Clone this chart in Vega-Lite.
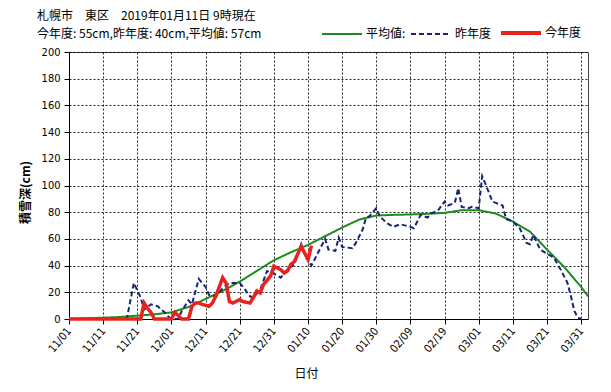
{
  "$schema": "https://vega.github.io/schema/vega-lite/v6.json",
  "width": 519,
  "height": 267,
  "autosize": {"type": "none"},
  "padding": {"left": 69, "top": 52, "right": 23, "bottom": 73},
  "background": "white",
  "title": {
    "text": ["札幌市　東区　2019年01月11日 9時現在", "今年度: 55cm,昨年度: 40cm,平均値: 57cm"],
    "anchor": "start",
    "frame": "group",
    "dx": -32,
    "dy": 26,
    "offset": 12,
    "font": "Noto Sans CJK JP",
    "fontSize": 12,
    "fontWeight": "normal",
    "lineHeight": 18,
    "color": "#000"
  },
  "data": {
    "values": [
      {"d": "2018-11-01", "s": "平均値:", "v": 0},
      {"d": "2018-11-06", "s": "平均値:", "v": 0.5},
      {"d": "2018-11-11", "s": "平均値:", "v": 1},
      {"d": "2018-11-16", "s": "平均値:", "v": 1.5},
      {"d": "2018-11-21", "s": "平均値:", "v": 2.5},
      {"d": "2018-11-26", "s": "平均値:", "v": 3.5},
      {"d": "2018-12-01", "s": "平均値:", "v": 5},
      {"d": "2018-12-06", "s": "平均値:", "v": 9},
      {"d": "2018-12-11", "s": "平均値:", "v": 15},
      {"d": "2018-12-16", "s": "平均値:", "v": 21},
      {"d": "2018-12-21", "s": "平均値:", "v": 28},
      {"d": "2018-12-26", "s": "平均値:", "v": 36},
      {"d": "2018-12-31", "s": "平均値:", "v": 44},
      {"d": "2019-01-05", "s": "平均値:", "v": 50},
      {"d": "2019-01-10", "s": "平均値:", "v": 55.5},
      {"d": "2019-01-15", "s": "平均値:", "v": 62},
      {"d": "2019-01-20", "s": "平均値:", "v": 68.5},
      {"d": "2019-01-25", "s": "平均値:", "v": 74.5},
      {"d": "2019-01-30", "s": "平均値:", "v": 77.5},
      {"d": "2019-02-04", "s": "平均値:", "v": 78},
      {"d": "2019-02-09", "s": "平均値:", "v": 78.3},
      {"d": "2019-02-14", "s": "平均値:", "v": 78.8},
      {"d": "2019-02-19", "s": "平均値:", "v": 79.5},
      {"d": "2019-02-24", "s": "平均値:", "v": 81.5},
      {"d": "2019-03-01", "s": "平均値:", "v": 81.5},
      {"d": "2019-03-06", "s": "平均値:", "v": 79},
      {"d": "2019-03-11", "s": "平均値:", "v": 73},
      {"d": "2019-03-16", "s": "平均値:", "v": 65.5},
      {"d": "2019-03-21", "s": "平均値:", "v": 52},
      {"d": "2019-03-26", "s": "平均値:", "v": 39},
      {"d": "2019-03-31", "s": "平均値:", "v": 24},
      {"d": "2019-04-02", "s": "平均値:", "v": 17},

      {"d": "2018-11-01", "s": "昨年度", "v": 0},
      {"d": "2018-11-17", "s": "昨年度", "v": 0},
      {"d": "2018-11-18", "s": "昨年度", "v": 1},
      {"d": "2018-11-20", "s": "昨年度", "v": 27},
      {"d": "2018-11-22", "s": "昨年度", "v": 16},
      {"d": "2018-11-23", "s": "昨年度", "v": 7},
      {"d": "2018-11-25", "s": "昨年度", "v": 11},
      {"d": "2018-11-27", "s": "昨年度", "v": 9.5},
      {"d": "2018-11-29", "s": "昨年度", "v": 5},
      {"d": "2018-11-30", "s": "昨年度", "v": 2},
      {"d": "2018-12-01", "s": "昨年度", "v": 0},
      {"d": "2018-12-03", "s": "昨年度", "v": 0},
      {"d": "2018-12-04", "s": "昨年度", "v": 6},
      {"d": "2018-12-06", "s": "昨年度", "v": 14},
      {"d": "2018-12-07", "s": "昨年度", "v": 11},
      {"d": "2018-12-09", "s": "昨年度", "v": 30},
      {"d": "2018-12-11", "s": "昨年度", "v": 24},
      {"d": "2018-12-12", "s": "昨年度", "v": 18},
      {"d": "2018-12-14", "s": "昨年度", "v": 17},
      {"d": "2018-12-16", "s": "昨年度", "v": 23},
      {"d": "2018-12-18", "s": "昨年度", "v": 27},
      {"d": "2018-12-21", "s": "昨年度", "v": 27},
      {"d": "2018-12-22", "s": "昨年度", "v": 24},
      {"d": "2018-12-24", "s": "昨年度", "v": 17},
      {"d": "2018-12-25", "s": "昨年度", "v": 16},
      {"d": "2018-12-27", "s": "昨年度", "v": 22},
      {"d": "2018-12-29", "s": "昨年度", "v": 36},
      {"d": "2018-12-31", "s": "昨年度", "v": 34},
      {"d": "2019-01-02", "s": "昨年度", "v": 31},
      {"d": "2019-01-04", "s": "昨年度", "v": 37},
      {"d": "2019-01-06", "s": "昨年度", "v": 41},
      {"d": "2019-01-08", "s": "昨年度", "v": 56},
      {"d": "2019-01-09", "s": "昨年度", "v": 48},
      {"d": "2019-01-11", "s": "昨年度", "v": 40},
      {"d": "2019-01-13", "s": "昨年度", "v": 50},
      {"d": "2019-01-15", "s": "昨年度", "v": 60},
      {"d": "2019-01-16", "s": "昨年度", "v": 52},
      {"d": "2019-01-18", "s": "昨年度", "v": 51},
      {"d": "2019-01-19", "s": "昨年度", "v": 61},
      {"d": "2019-01-20", "s": "昨年度", "v": 54},
      {"d": "2019-01-23", "s": "昨年度", "v": 53},
      {"d": "2019-01-24", "s": "昨年度", "v": 57},
      {"d": "2019-01-26", "s": "昨年度", "v": 67},
      {"d": "2019-01-27", "s": "昨年度", "v": 76},
      {"d": "2019-01-28", "s": "昨年度", "v": 77},
      {"d": "2019-01-30", "s": "昨年度", "v": 83},
      {"d": "2019-01-31", "s": "昨年度", "v": 77},
      {"d": "2019-02-02", "s": "昨年度", "v": 72},
      {"d": "2019-02-04", "s": "昨年度", "v": 69},
      {"d": "2019-02-06", "s": "昨年度", "v": 71},
      {"d": "2019-02-09", "s": "昨年度", "v": 69},
      {"d": "2019-02-10", "s": "昨年度", "v": 68},
      {"d": "2019-02-12", "s": "昨年度", "v": 78},
      {"d": "2019-02-14", "s": "昨年度", "v": 76},
      {"d": "2019-02-15", "s": "昨年度", "v": 79},
      {"d": "2019-02-17", "s": "昨年度", "v": 81},
      {"d": "2019-02-19", "s": "昨年度", "v": 88},
      {"d": "2019-02-20", "s": "昨年度", "v": 85},
      {"d": "2019-02-22", "s": "昨年度", "v": 87},
      {"d": "2019-02-23", "s": "昨年度", "v": 98},
      {"d": "2019-02-24", "s": "昨年度", "v": 84},
      {"d": "2019-02-26", "s": "昨年度", "v": 83},
      {"d": "2019-02-27", "s": "昨年度", "v": 84},
      {"d": "2019-03-01", "s": "昨年度", "v": 83},
      {"d": "2019-03-02", "s": "昨年度", "v": 107},
      {"d": "2019-03-03", "s": "昨年度", "v": 101},
      {"d": "2019-03-05", "s": "昨年度", "v": 88},
      {"d": "2019-03-06", "s": "昨年度", "v": 87},
      {"d": "2019-03-08", "s": "昨年度", "v": 85},
      {"d": "2019-03-09", "s": "昨年度", "v": 75},
      {"d": "2019-03-11", "s": "昨年度", "v": 73},
      {"d": "2019-03-13", "s": "昨年度", "v": 68},
      {"d": "2019-03-15", "s": "昨年度", "v": 57},
      {"d": "2019-03-16", "s": "昨年度", "v": 56},
      {"d": "2019-03-17", "s": "昨年度", "v": 63},
      {"d": "2019-03-19", "s": "昨年度", "v": 52},
      {"d": "2019-03-21", "s": "昨年度", "v": 49},
      {"d": "2019-03-23", "s": "昨年度", "v": 46},
      {"d": "2019-03-25", "s": "昨年度", "v": 37},
      {"d": "2019-03-27", "s": "昨年度", "v": 27},
      {"d": "2019-03-28", "s": "昨年度", "v": 17},
      {"d": "2019-03-29", "s": "昨年度", "v": 6},
      {"d": "2019-03-30", "s": "昨年度", "v": 1},
      {"d": "2019-03-31", "s": "昨年度", "v": 0},

      {"d": "2018-11-01", "s": "今年度", "v": 0},
      {"d": "2018-11-22", "s": "今年度", "v": 0},
      {"d": "2018-11-23", "s": "今年度", "v": 12},
      {"d": "2018-11-24", "s": "今年度", "v": 8},
      {"d": "2018-11-25", "s": "今年度", "v": 5},
      {"d": "2018-11-26", "s": "今年度", "v": 0},
      {"d": "2018-12-01", "s": "今年度", "v": 0},
      {"d": "2018-12-02", "s": "今年度", "v": 5},
      {"d": "2018-12-03", "s": "今年度", "v": 2.5},
      {"d": "2018-12-04", "s": "今年度", "v": 0},
      {"d": "2018-12-06", "s": "今年度", "v": 0},
      {"d": "2018-12-07", "s": "今年度", "v": 9.5},
      {"d": "2018-12-08", "s": "今年度", "v": 12},
      {"d": "2018-12-09", "s": "今年度", "v": 12},
      {"d": "2018-12-10", "s": "今年度", "v": 11},
      {"d": "2018-12-12", "s": "今年度", "v": 9.5},
      {"d": "2018-12-13", "s": "今年度", "v": 12},
      {"d": "2018-12-14", "s": "今年度", "v": 17},
      {"d": "2018-12-16", "s": "今年度", "v": 31},
      {"d": "2018-12-17", "s": "今年度", "v": 27},
      {"d": "2018-12-18", "s": "今年度", "v": 13},
      {"d": "2018-12-19", "s": "今年度", "v": 12},
      {"d": "2018-12-21", "s": "今年度", "v": 14.5},
      {"d": "2018-12-22", "s": "今年度", "v": 13},
      {"d": "2018-12-24", "s": "今年度", "v": 12},
      {"d": "2018-12-25", "s": "今年度", "v": 16},
      {"d": "2018-12-26", "s": "今年度", "v": 21},
      {"d": "2018-12-27", "s": "今年度", "v": 19.5},
      {"d": "2018-12-28", "s": "今年度", "v": 26},
      {"d": "2018-12-30", "s": "今年度", "v": 32},
      {"d": "2018-12-31", "s": "今年度", "v": 39.5},
      {"d": "2019-01-02", "s": "今年度", "v": 37},
      {"d": "2019-01-03", "s": "今年度", "v": 34.5},
      {"d": "2019-01-04", "s": "今年度", "v": 36},
      {"d": "2019-01-05", "s": "今年度", "v": 41},
      {"d": "2019-01-06", "s": "今年度", "v": 43},
      {"d": "2019-01-08", "s": "今年度", "v": 54.5},
      {"d": "2019-01-09", "s": "今年度", "v": 49.5},
      {"d": "2019-01-10", "s": "今年度", "v": 44.5},
      {"d": "2019-01-11", "s": "今年度", "v": 55}
    ]
  },
  "encoding": {
    "x": {
      "field": "d",
      "type": "temporal",
      "scale": {
        "type": "utc",
        "domain": [
          {"year": 2018, "month": 11, "date": 1, "utc": true},
          {"year": 2019, "month": 4, "date": 2, "utc": true}
        ]
      },
      "axis": {
        "values": [
          {"year": 2018, "month": 11, "date": 1, "utc": true},
          {"year": 2018, "month": 11, "date": 11, "utc": true},
          {"year": 2018, "month": 11, "date": 21, "utc": true},
          {"year": 2018, "month": 12, "date": 1, "utc": true},
          {"year": 2018, "month": 12, "date": 11, "utc": true},
          {"year": 2018, "month": 12, "date": 21, "utc": true},
          {"year": 2018, "month": 12, "date": 31, "utc": true},
          {"year": 2019, "month": 1, "date": 10, "utc": true},
          {"year": 2019, "month": 1, "date": 20, "utc": true},
          {"year": 2019, "month": 1, "date": 30, "utc": true},
          {"year": 2019, "month": 2, "date": 9, "utc": true},
          {"year": 2019, "month": 2, "date": 19, "utc": true},
          {"year": 2019, "month": 3, "date": 1, "utc": true},
          {"year": 2019, "month": 3, "date": 11, "utc": true},
          {"year": 2019, "month": 3, "date": 21, "utc": true},
          {"year": 2019, "month": 3, "date": 31, "utc": true}
        ],
        "format": "%m/%d",
        "labelAngle": -50,
        "labelAlign": "right",
        "labelBaseline": "middle",
        "labelPadding": 5,
        "tickSize": 5,
        "title": "日付",
        "titleX": 237,
        "titleY": 54,
        "titleBaseline": "middle",
        "titleAlign": "center"
      }
    },
    "y": {
      "field": "v",
      "type": "quantitative",
      "scale": {"domain": [0, 200], "nice": false},
      "axis": {
        "values": [0, 20, 40, 60, 80, 100, 120, 140, 160, 180, 200],
        "tickSize": 5,
        "labelPadding": 4,
        "title": "積雪深(cm)",
        "titleFontWeight": "bold",
        "titleX": -44,
        "titleY": 140,
        "titleAngle": -90,
        "titleAlign": "center",
        "titleBaseline": "middle"
      }
    },
    "color": {
      "field": "s",
      "type": "nominal",
      "scale": {
        "domain": ["平均値:", "昨年度", "今年度"],
        "range": ["#1f8a1f", "#16237a", "#e8221c"]
      },
      "legend": {
        "orient": "none",
        "legendX": 267,
        "legendY": -25,
        "direction": "horizontal",
        "title": null,
        "symbolType": "stroke",
        "symbolSize": 1600,
        "symbolStrokeWidth": 2,
        "labelOffset": 18,
        "columnPadding": 1,
        "labelFont": "Noto Sans CJK JP",
        "labelFontSize": 12,
        "labelColor": "#000",
        "encode": {
          "symbols": {
            "update": {
              "strokeWidth": {"signal": "datum.value === '今年度' ? 4 : 2"}
            }
          }
        }
      }
    },
    "strokeDash": {
      "field": "s",
      "type": "nominal",
      "scale": {
        "domain": ["平均値:", "昨年度", "今年度"],
        "range": [[1, 0], [5, 3], [1, 0]]
      },
      "legend": {
        "orient": "none",
        "legendX": 267,
        "legendY": -25,
        "direction": "horizontal",
        "title": null,
        "symbolType": "stroke",
        "symbolSize": 1600,
        "symbolStrokeWidth": 2,
        "labelOffset": 18,
        "columnPadding": 1,
        "labelFont": "Noto Sans CJK JP",
        "labelFontSize": 12,
        "labelColor": "#000",
        "encode": {
          "symbols": {
            "update": {
              "strokeWidth": {"signal": "datum.value === '今年度' ? 4 : 2"}
            }
          }
        }
      }
    }
  },
  "layer": [
    {"transform": [{"filter": "datum.s === '平均値:'"}], "mark": {"type": "line", "strokeWidth": 2}},
    {"transform": [{"filter": "datum.s === '昨年度'"}], "mark": {"type": "line", "strokeWidth": 2}},
    {"transform": [{"filter": "datum.s === '今年度'"}], "mark": {"type": "line", "strokeWidth": 3.5}}
  ],
  "config": {
    "view": {"stroke": "#444", "strokeWidth": 1},
    "axis": {
      "grid": true,
      "gridColor": "#000",
      "gridDash": [2, 2],
      "gridOpacity": 0.85,
      "domainColor": "#000",
      "tickColor": "#000",
      "labelColor": "#000",
      "labelFont": "Liberation Sans Narrow, DejaVu Sans Condensed, Noto Sans CJK JP, sans-serif",
      "labelFontSize": 11,
      "titleFont": "Noto Sans CJK JP",
      "titleFontSize": 12,
      "titleFontWeight": "normal",
      "titleColor": "#000"
    }
  }
}
